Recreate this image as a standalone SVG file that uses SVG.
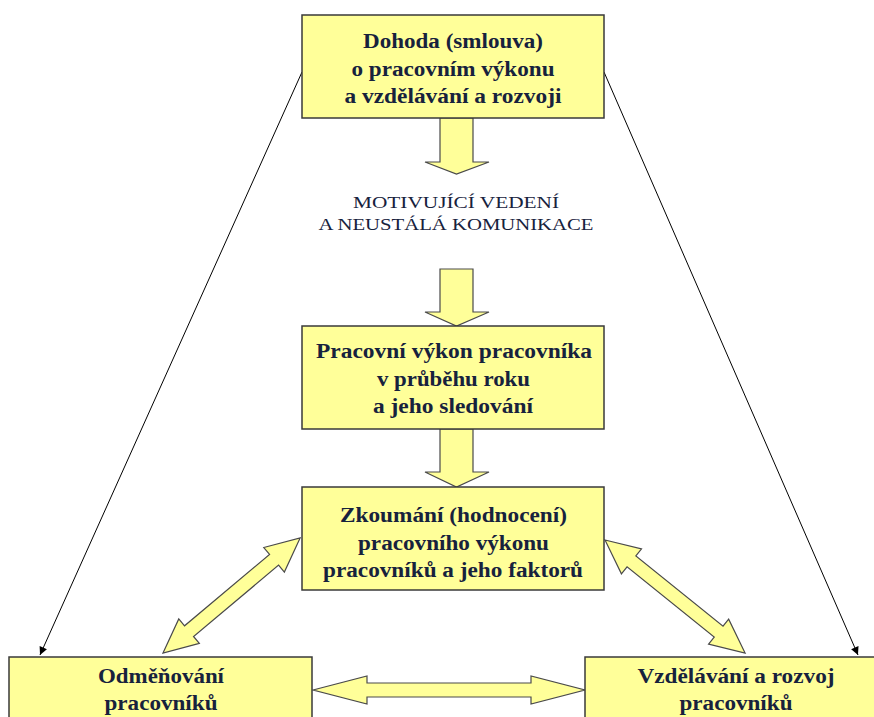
<svg xmlns="http://www.w3.org/2000/svg" width="874" height="717" viewBox="0 0 874 717">
<style>
.box{fill:#ffff99;stroke:#3a3a3a;stroke-width:1.5}
.blk{fill:#ffff99;stroke:#4a4a4a;stroke-width:1.2;stroke-linejoin:miter}
.t{font-family:"Liberation Serif","Times New Roman",serif;font-weight:bold;font-size:20px;fill:#17223d;text-anchor:middle}
.m{font-family:"Liberation Serif","Times New Roman",serif;font-size:17px;fill:#17223d;text-anchor:middle}
.ln{stroke:#000;stroke-width:1;fill:none}
</style>
<defs>
<marker id="ah" viewBox="0 0 10 10" refX="10" refY="5" markerWidth="10" markerHeight="8" markerUnits="userSpaceOnUse" orient="auto">
<path d="M0,0 L10,5 L0,10 z" fill="#000"/>
</marker>
</defs>
<rect width="874" height="717" fill="#fff"/>
<g id="connectors">
<line class="ln" x1="302" y1="72" x2="40" y2="655" marker-end="url(#ah)"/>
<line class="ln" x1="604" y1="72" x2="858" y2="655" marker-end="url(#ah)"/>
<polygon class="blk" points="440,118 473,118 473,162 489,162 456.5,174 425,162 440,162"/>
<polygon class="blk" points="440,269 473,269 473,312 489,312 456.5,326 425,312 440,312"/>
<polygon class="blk" points="440,429 473,429 473,472 489,472 456.5,487 425,472 440,472"/>
<polygon class="blk" transform="translate(163,653) rotate(-40)" points="0,0 34,-16 34,-7 145,-7 145,-16 179,0 145,16 145,7 34,7 34,16"/>
<polygon class="blk" transform="translate(605,540) rotate(38.9)" points="0,0 34,-16 34,-7 146,-7 146,-16 180,0 146,16 146,7 34,7 34,16"/>
<polygon class="blk" points="313,690 367,676 367,683 531,683 531,676 585,690 531,704 531,697 367,697 367,704"/>
</g>
<g id="n1">
<rect class="box" x="302" y="15" width="302" height="103"/>
<text class="t" x="453" y="48" textLength="180" lengthAdjust="spacingAndGlyphs">Dohoda (smlouva)</text>
<text class="t" x="453" y="76" textLength="203" lengthAdjust="spacingAndGlyphs">o pracovním výkonu</text>
<text class="t" x="453" y="103" textLength="217" lengthAdjust="spacingAndGlyphs">a vzdělávání a rozvoji</text>
</g>
<g id="label">
<text class="m" x="456" y="208" textLength="206" lengthAdjust="spacingAndGlyphs">MOTIVUJÍCÍ VEDENÍ</text>
<text class="m" x="456" y="230" textLength="275" lengthAdjust="spacingAndGlyphs">A NEUSTÁLÁ KOMUNIKACE</text>
</g>
<g id="n2">
<rect class="box" x="302" y="326" width="302" height="103"/>
<text class="t" x="454" y="358" textLength="276" lengthAdjust="spacingAndGlyphs">Pracovní výkon pracovníka</text>
<text class="t" x="453.5" y="386" textLength="153" lengthAdjust="spacingAndGlyphs">v průběhu roku</text>
<text class="t" x="453" y="413" textLength="160" lengthAdjust="spacingAndGlyphs">a jeho sledování</text>
</g>
<g id="n3">
<rect class="box" x="302" y="487" width="302" height="103"/>
<text class="t" x="453.5" y="522" textLength="227" lengthAdjust="spacingAndGlyphs">Zkoumání (hodnocení)</text>
<text class="t" x="453.5" y="550" textLength="191" lengthAdjust="spacingAndGlyphs">pracovního výkonu</text>
<text class="t" x="453" y="577" textLength="260" lengthAdjust="spacingAndGlyphs">pracovníků a jeho faktorů</text>
</g>
<g id="n4">
<rect class="box" x="9" y="657" width="303" height="80"/>
<text class="t" x="161" y="683" textLength="126" lengthAdjust="spacingAndGlyphs">Odměňování</text>
<text class="t" x="161" y="710" textLength="113" lengthAdjust="spacingAndGlyphs">pracovníků</text>
</g>
<g id="n5">
<rect class="box" x="585" y="657" width="303" height="80"/>
<text class="t" x="736" y="683" textLength="197" lengthAdjust="spacingAndGlyphs">Vzdělávání a rozvoj</text>
<text class="t" x="736" y="710" textLength="113" lengthAdjust="spacingAndGlyphs">pracovníků</text>
</g>
</svg>
